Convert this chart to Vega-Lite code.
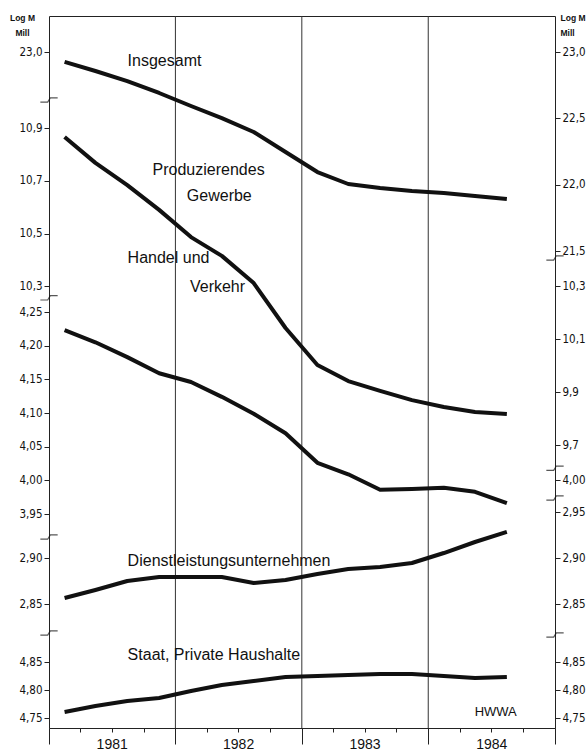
{
  "$schema": "https://vega.github.io/schema/vega-lite/v6.json",
  "width": 506,
  "height": 712,
  "autosize": {"type": "none"},
  "padding": {"left": 49, "top": 16, "right": 31, "bottom": 24},
  "background": "white",
  "datasets": {
    "series": [
      {"series": "Ins", "date": "1981-02-15", "value": 22.925},
      {"series": "Ins", "date": "1981-05-15", "value": 22.857},
      {"series": "Ins", "date": "1981-08-15", "value": 22.781},
      {"series": "Ins", "date": "1981-11-15", "value": 22.691},
      {"series": "Ins", "date": "1982-02-15", "value": 22.593},
      {"series": "Ins", "date": "1982-05-15", "value": 22.502},
      {"series": "Ins", "date": "1982-08-15", "value": 22.397},
      {"series": "Ins", "date": "1982-11-15", "value": 22.246},
      {"series": "Ins", "date": "1983-02-15", "value": 22.095},
      {"series": "Ins", "date": "1983-05-15", "value": 22.005},
      {"series": "Ins", "date": "1983-08-15", "value": 21.975},
      {"series": "Ins", "date": "1983-11-15", "value": 21.952},
      {"series": "Ins", "date": "1984-02-15", "value": 21.937},
      {"series": "Ins", "date": "1984-05-15", "value": 21.915},
      {"series": "Ins", "date": "1984-08-15", "value": 21.892},
      {"series": "Prod", "date": "1981-02-15", "value": 10.866},
      {"series": "Prod", "date": "1981-05-15", "value": 10.768},
      {"series": "Prod", "date": "1981-08-15", "value": 10.684},
      {"series": "Prod", "date": "1981-11-15", "value": 10.59},
      {"series": "Prod", "date": "1982-02-15", "value": 10.487},
      {"series": "Prod", "date": "1982-05-15", "value": 10.416},
      {"series": "Prod", "date": "1982-08-15", "value": 10.313},
      {"series": "Prod", "date": "1982-11-15", "value": 10.143},
      {"series": "Prod", "date": "1983-02-15", "value": 10.003},
      {"series": "Prod", "date": "1983-05-15", "value": 9.942},
      {"series": "Prod", "date": "1983-08-15", "value": 9.905},
      {"series": "Prod", "date": "1983-11-15", "value": 9.87},
      {"series": "Prod", "date": "1984-02-15", "value": 9.844},
      {"series": "Prod", "date": "1984-05-15", "value": 9.825},
      {"series": "Prod", "date": "1984-08-15", "value": 9.817},
      {"series": "Handel", "date": "1981-02-15", "value": 4.223},
      {"series": "Handel", "date": "1981-05-15", "value": 4.205},
      {"series": "Handel", "date": "1981-08-15", "value": 4.183},
      {"series": "Handel", "date": "1981-11-15", "value": 4.159},
      {"series": "Handel", "date": "1982-02-15", "value": 4.146},
      {"series": "Handel", "date": "1982-05-15", "value": 4.124},
      {"series": "Handel", "date": "1982-08-15", "value": 4.099},
      {"series": "Handel", "date": "1982-11-15", "value": 4.07},
      {"series": "Handel", "date": "1983-02-15", "value": 4.026},
      {"series": "Handel", "date": "1983-05-15", "value": 4.009},
      {"series": "Handel", "date": "1983-08-15", "value": 3.986},
      {"series": "Handel", "date": "1983-11-15", "value": 3.987},
      {"series": "Handel", "date": "1984-02-15", "value": 3.989},
      {"series": "Handel", "date": "1984-05-15", "value": 3.983},
      {"series": "Handel", "date": "1984-08-15", "value": 3.966},
      {"series": "Dienst", "date": "1981-02-15", "value": 2.8565},
      {"series": "Dienst", "date": "1981-05-15", "value": 2.8652},
      {"series": "Dienst", "date": "1981-08-15", "value": 2.875},
      {"series": "Dienst", "date": "1981-11-15", "value": 2.8793},
      {"series": "Dienst", "date": "1982-02-15", "value": 2.8793},
      {"series": "Dienst", "date": "1982-05-15", "value": 2.8793},
      {"series": "Dienst", "date": "1982-08-15", "value": 2.8728},
      {"series": "Dienst", "date": "1982-11-15", "value": 2.8761},
      {"series": "Dienst", "date": "1983-02-15", "value": 2.8826},
      {"series": "Dienst", "date": "1983-05-15", "value": 2.888},
      {"series": "Dienst", "date": "1983-08-15", "value": 2.8902},
      {"series": "Dienst", "date": "1983-11-15", "value": 2.8946},
      {"series": "Dienst", "date": "1984-02-15", "value": 2.9054},
      {"series": "Dienst", "date": "1984-05-15", "value": 2.9174},
      {"series": "Dienst", "date": "1984-08-15", "value": 2.9283},
      {"series": "Staat", "date": "1981-02-15", "value": 4.7607},
      {"series": "Staat", "date": "1981-05-15", "value": 4.7714},
      {"series": "Staat", "date": "1981-08-15", "value": 4.7803},
      {"series": "Staat", "date": "1981-11-15", "value": 4.7857},
      {"series": "Staat", "date": "1982-02-15", "value": 4.7982},
      {"series": "Staat", "date": "1982-05-15", "value": 4.8089},
      {"series": "Staat", "date": "1982-08-15", "value": 4.8161},
      {"series": "Staat", "date": "1982-11-15", "value": 4.8232},
      {"series": "Staat", "date": "1983-02-15", "value": 4.825},
      {"series": "Staat", "date": "1983-05-15", "value": 4.8268},
      {"series": "Staat", "date": "1983-08-15", "value": 4.8286},
      {"series": "Staat", "date": "1983-11-15", "value": 4.8286},
      {"series": "Staat", "date": "1984-02-15", "value": 4.825},
      {"series": "Staat", "date": "1984-05-15", "value": 4.8214},
      {"series": "Staat", "date": "1984-08-15", "value": 4.8232}
    ],
    "labels": [
      {"series": "Ins", "date": "1981-08-16", "value": 22.932, "text": "Insgesamt"},
      {"series": "Prod", "date": "1981-10-27", "value": 10.741, "text": "Produzierendes"},
      {"series": "Prod", "date": "1982-02-03", "value": 10.643, "text": "Gewerbe"},
      {"series": "Handel", "date": "1981-08-16", "value": 4.33, "text": "Handel  und"},
      {"series": "Handel", "date": "1982-02-12", "value": 4.287, "text": "Verkehr"},
      {"series": "Dienst", "date": "1981-08-16", "value": 2.8967, "text": "Dienstleistungsunternehmen"},
      {"series": "Staat", "date": "1981-08-16", "value": 4.8625, "text": "Staat, Private Haushalte"},
      {"series": "Staat", "date": "1984-05-14", "value": 4.7607, "text": "HWWA"}
    ],
    "breaks": [
      {"series": "Prod", "date": "1981-01-01", "value": 11.006},
      {"series": "Prod", "date": "1985-01-01", "value": 10.408},
      {"series": "Handel", "date": "1981-01-01", "value": 4.271},
      {"series": "Handel", "date": "1985-01-01", "value": 4.018},
      {"series": "Dienst", "date": "1981-01-01", "value": 2.9228},
      {"series": "Dienst", "date": "1985-01-01", "value": 2.9652},
      {"series": "Staat", "date": "1981-01-01", "value": 4.9018},
      {"series": "Staat", "date": "1985-01-01", "value": 4.8982}
    ],
    "years": [
      {"date": "1982-01-01"},
      {"date": "1983-01-01"},
      {"date": "1984-01-01"}
    ]
  },
  "encoding": {
    "x": {
      "field": "date",
      "type": "temporal",
      "scale": {"domain": [{"year": 1981, "month": 1, "date": 1}, {"year": 1985, "month": 1, "date": 1}]},
      "axis": {
        "title": null,
        "values": [
          {"year": 1981, "month": 1, "date": 1}, {"year": 1981, "month": 4, "date": 1}, {"year": 1981, "month": 7, "date": 1}, {"year": 1981, "month": 10, "date": 1},
          {"year": 1982, "month": 1, "date": 1}, {"year": 1982, "month": 4, "date": 1}, {"year": 1982, "month": 7, "date": 1}, {"year": 1982, "month": 10, "date": 1},
          {"year": 1983, "month": 1, "date": 1}, {"year": 1983, "month": 4, "date": 1}, {"year": 1983, "month": 7, "date": 1}, {"year": 1983, "month": 10, "date": 1},
          {"year": 1984, "month": 1, "date": 1}, {"year": 1984, "month": 4, "date": 1}, {"year": 1984, "month": 7, "date": 1}, {"year": 1984, "month": 10, "date": 1},
          {"year": 1985, "month": 1, "date": 1}
        ],
        "labelExpr": "month(datum.value) == 6 ? timeFormat(datum.value, '%Y') : ''",
        "tickSize": {"condition": {"test": "month(datum.value) == 0", "value": 16}, "value": 4},
        "grid": false,
        "domain": true,
        "domainColor": "#222",
        "tickColor": "#222",
        "labelFontSize": 14,
        "labelPadding": 5,
        "labelFont": "Liberation Sans, Arial, sans-serif"
      }
    }
  },
  "layer": [
    {
      "data": {"name": "years"},
      "mark": {"type": "rule", "color": "#333", "strokeWidth": 1},
      "encoding": {}
    },
    {
      "data": {"name": "series"},
      "transform": [{"filter": "datum.series == 'Ins'"}],
      "mark": {"type": "line", "color": "#111", "strokeWidth": 4, "strokeJoin": "round"},
      "encoding": {
        "y": {"field": "value", "type": "quantitative",
          "scale": {"domain": [21.5, 23.0], "range": [235, 36], "zero": false, "nice": false},
          "axis": {"orient": "right", "values": [21.5, 22.0, 22.5, 23.0], "format": ".1f", "labelExpr": "replace(datum.label, '.', ',')",
            "title": ["Log M", "Mill"], "titleAngle": 0, "titleAlign": "left", "titleBaseline": "top", "titleX": 5, "titleY": -3, "titleFontSize": 8.5, "titleFontWeight": "bold", "titleLineHeight": 15}}
      }
    },
    {
      "data": {"name": "labels"},
      "transform": [{"filter": "datum.series == 'Ins'"}],
      "mark": {"type": "text", "align": "left", "baseline": "middle", "fontSize": 16, "color": "#111"},
      "encoding": {
        "text": {"field": "text"},
        "y": {"field": "value", "type": "quantitative",
          "scale": {"domain": [21.5, 23.0], "range": [235, 36], "zero": false, "nice": false},
          "axis": {"orient": "left", "values": [23.0], "format": ".1f", "labelExpr": "replace(datum.label, '.', ',')",
            "title": ["Log M", "Mill"], "titleAngle": 0, "titleAlign": "center", "titleBaseline": "top", "titleX": -27, "titleY": -3, "titleFontSize": 8.5, "titleFontWeight": "bold", "titleLineHeight": 15}}
      }
    },
    {
      "data": {"name": "series"},
      "transform": [{"filter": "datum.series == 'Prod'"}],
      "mark": {"type": "line", "color": "#111", "strokeWidth": 4, "strokeJoin": "round"},
      "encoding": {
        "y": {"field": "value", "type": "quantitative",
          "scale": {"domain": [9.7, 10.9], "range": [429, 112], "zero": false, "nice": false},
          "axis": {"orient": "left", "values": [10.3, 10.5, 10.7, 10.9], "format": ".1f", "labelExpr": "replace(datum.label, '.', ',')", "title": null}}
      }
    },
    {
      "data": {"name": "labels"},
      "transform": [{"filter": "datum.series == 'Prod'"}],
      "mark": {"type": "text", "align": "left", "baseline": "middle", "fontSize": 16, "color": "#111"},
      "encoding": {
        "text": {"field": "text"},
        "y": {"field": "value", "type": "quantitative",
          "scale": {"domain": [9.7, 10.9], "range": [429, 112], "zero": false, "nice": false},
          "axis": {"orient": "right", "values": [9.7, 9.9, 10.1, 10.3], "format": ".1f", "labelExpr": "replace(datum.label, '.', ',')", "title": null}}
      }
    },
    {
      "data": {"name": "breaks"},
      "transform": [{"filter": "datum.series == 'Prod'"}],
      "mark": {"type": "point", "shape": "M -1 0.25 L -0.15 0.25 L 0.15 -0.25 L 1 -0.25", "filled": false, "stroke": "#111", "strokeWidth": 1.2, "size": 300},
      "encoding": {
        "y": {"field": "value", "type": "quantitative",
          "scale": {"domain": [9.7, 10.9], "range": [429, 112], "zero": false, "nice": false}, "axis": null}
      }
    },
    {
      "data": {"name": "series"},
      "transform": [{"filter": "datum.series == 'Handel'"}],
      "mark": {"type": "line", "color": "#111", "strokeWidth": 4, "strokeJoin": "round"},
      "encoding": {
        "y": {"field": "value", "type": "quantitative",
          "scale": {"domain": [3.95, 4.25], "range": [498, 296], "zero": false, "nice": false},
          "axis": {"orient": "left", "values": [3.95, 4.0, 4.05, 4.1, 4.15, 4.2, 4.25], "format": ".2f", "labelExpr": "replace(datum.label, '.', ',')", "title": null}}
      }
    },
    {
      "data": {"name": "labels"},
      "transform": [{"filter": "datum.series == 'Handel'"}],
      "mark": {"type": "text", "align": "left", "baseline": "middle", "fontSize": 16, "color": "#111"},
      "encoding": {
        "text": {"field": "text"},
        "y": {"field": "value", "type": "quantitative",
          "scale": {"domain": [3.95, 4.25], "range": [498, 296], "zero": false, "nice": false},
          "axis": {"orient": "right", "values": [4.0], "format": ".2f", "labelExpr": "replace(datum.label, '.', ',')", "title": null}}
      }
    },
    {
      "data": {"name": "breaks"},
      "transform": [{"filter": "datum.series == 'Handel'"}],
      "mark": {"type": "point", "shape": "M -1 0.25 L -0.15 0.25 L 0.15 -0.25 L 1 -0.25", "filled": false, "stroke": "#111", "strokeWidth": 1.2, "size": 300},
      "encoding": {
        "y": {"field": "value", "type": "quantitative",
          "scale": {"domain": [3.95, 4.25], "range": [498, 296], "zero": false, "nice": false}, "axis": null}
      }
    },
    {
      "data": {"name": "series"},
      "transform": [{"filter": "datum.series == 'Dienst'"}],
      "mark": {"type": "line", "color": "#111", "strokeWidth": 4, "strokeJoin": "round"},
      "encoding": {
        "y": {"field": "value", "type": "quantitative",
          "scale": {"domain": [2.85, 2.95], "range": [588, 496], "zero": false, "nice": false},
          "axis": {"orient": "left", "values": [2.85, 2.9], "format": ".2f", "labelExpr": "replace(datum.label, '.', ',')", "title": null}}
      }
    },
    {
      "data": {"name": "labels"},
      "transform": [{"filter": "datum.series == 'Dienst'"}],
      "mark": {"type": "text", "align": "left", "baseline": "middle", "fontSize": 16, "color": "#111"},
      "encoding": {
        "text": {"field": "text"},
        "y": {"field": "value", "type": "quantitative",
          "scale": {"domain": [2.85, 2.95], "range": [588, 496], "zero": false, "nice": false},
          "axis": {"orient": "right", "values": [2.85, 2.9, 2.95], "format": ".2f", "labelExpr": "replace(datum.label, '.', ',')", "title": null}}
      }
    },
    {
      "data": {"name": "breaks"},
      "transform": [{"filter": "datum.series == 'Dienst'"}],
      "mark": {"type": "point", "shape": "M -1 0.25 L -0.15 0.25 L 0.15 -0.25 L 1 -0.25", "filled": false, "stroke": "#111", "strokeWidth": 1.2, "size": 300},
      "encoding": {
        "y": {"field": "value", "type": "quantitative",
          "scale": {"domain": [2.85, 2.95], "range": [588, 496], "zero": false, "nice": false}, "axis": null}
      }
    },
    {
      "data": {"name": "series"},
      "transform": [{"filter": "datum.series == 'Staat'"}],
      "mark": {"type": "line", "color": "#111", "strokeWidth": 4, "strokeJoin": "round"},
      "encoding": {
        "y": {"field": "value", "type": "quantitative",
          "scale": {"domain": [4.75, 4.85], "range": [702, 646], "zero": false, "nice": false},
          "axis": {"orient": "left", "values": [4.75, 4.8, 4.85], "format": ".2f", "labelExpr": "replace(datum.label, '.', ',')", "title": null}}
      }
    },
    {
      "data": {"name": "labels"},
      "transform": [{"filter": "datum.series == 'Staat'"}],
      "mark": {"type": "text", "align": "left", "baseline": "middle", "color": "#111"},
      "encoding": {
        "text": {"field": "text"},
        "size": {"condition": {"test": "datum.text == 'HWWA'", "value": 13}, "value": 16},
        "y": {"field": "value", "type": "quantitative",
          "scale": {"domain": [4.75, 4.85], "range": [702, 646], "zero": false, "nice": false},
          "axis": {"orient": "right", "values": [4.75, 4.8, 4.85], "format": ".2f", "labelExpr": "replace(datum.label, '.', ',')", "title": null}}
      }
    },
    {
      "data": {"name": "breaks"},
      "transform": [{"filter": "datum.series == 'Staat'"}],
      "mark": {"type": "point", "shape": "M -1 0.25 L -0.15 0.25 L 0.15 -0.25 L 1 -0.25", "filled": false, "stroke": "#111", "strokeWidth": 1.2, "size": 300},
      "encoding": {
        "y": {"field": "value", "type": "quantitative",
          "scale": {"domain": [4.75, 4.85], "range": [702, 646], "zero": false, "nice": false}, "axis": null}
      }
    }
  ],
  "resolve": {"scale": {"y": "independent"}, "axis": {"y": "independent"}},
  "config": {
    "view": {"stroke": "#222", "strokeWidth": 1},
    "font": "Liberation Sans, Arial, sans-serif",
    "text": {"font": "Liberation Sans, Arial, sans-serif"},
    "axis": {
      "labelColor": "#111",
      "titleColor": "#111",
      "tickColor": "#222",
      "labelFlush": false,
      "labelOverlap": false,
      "labelBound": false
    },
    "axisY": {
      "domain": false,
      "grid": false,
      "tickSize": 5,
      "labelFontSize": 11.5,
      "labelPadding": 2,
      "labelFont": "Liberation Sans Narrow, DejaVu Sans Condensed, Liberation Sans, sans-serif"
    }
  }
}
